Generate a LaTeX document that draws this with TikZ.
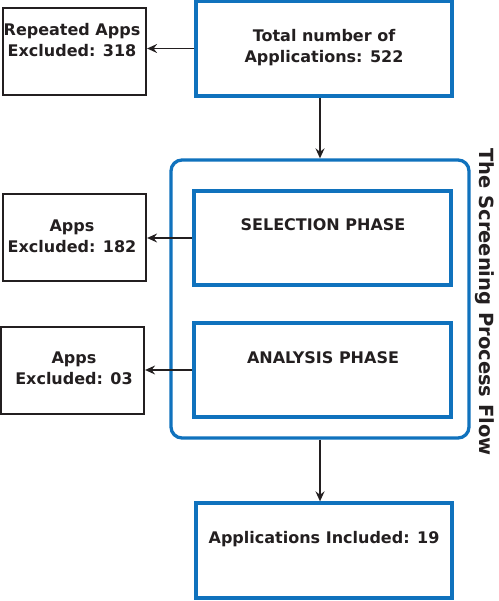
\documentclass[tikz,border=0pt]{standalone}
\usepackage{fontspec}
\setmainfont{DejaVu Sans}
\usetikzlibrary{arrows.meta}
\definecolor{boxblue}{RGB}{16,114,189}
\definecolor{boxblack}{RGB}{35,31,32}
\tikzset{
  bluebox/.style={draw=boxblue,line width=3.3pt,rectangle,inner sep=0pt},
  blackbox/.style={draw=boxblack,line width=2.2pt,rectangle,inner sep=0pt},
  lbl/.style={font=\fontsize{16}{21.5}\selectfont\bfseries,text=boxblack,align=center,inner sep=0pt},
  arr/.style={draw=boxblack,line width=1.9pt,-{Stealth[length=10pt,width=9pt,inset=3.5pt]}}
}
\begin{document}
\begin{tikzpicture}[x=1pt,y=-1pt]
\useasboundingbox (0,0) rectangle (498,601);
\node[blackbox,minimum width=143pt,minimum height=87pt] (rep) at (74.5,51.5) {};
\node[bluebox,minimum width=256pt,minimum height=95pt] (tot) at (324,48.5) {};
\node[bluebox,rounded corners=11pt,minimum width=298pt,minimum height=278pt] (big) at (320,299) {};
\node[bluebox,minimum width=257pt,minimum height=94pt] (sel) at (322.5,238) {};
\node[blackbox,minimum width=143pt,minimum height=87pt] (ex182) at (74.5,237.5) {};
\node[bluebox,minimum width=257pt,minimum height=94pt] (ana) at (322.5,370) {};
\node[blackbox,minimum width=143pt,minimum height=87pt] (ex03) at (72.5,370.5) {};
\node[bluebox,minimum width=256pt,minimum height=95pt] (inc) at (324,550.5) {};

\node[lbl] (reptxt) at (72,40) {Repeated Apps\\Excluded: 318};
\node[lbl] (tottxt) at (324,47.5) {Total number of\\Applications: 522};
\node[lbl] (seltxt) at (323,225) {SELECTION PHASE};
\node[lbl] (ex182txt) at (72,236.5) {Apps\\Excluded: 182};
\node[lbl] (anatxt) at (323,358) {ANALYSIS PHASE};
\node[lbl] (ex03txt) at (74,368.5) {Apps\\Excluded: 03};
\node[lbl] (inctxt) at (324,539) {Applications Included: 19};
\node[lbl,font=\fontsize{19.5}{22}\selectfont\bfseries,rotate=-90] (flow) at (485,302) {The Screening Process Flow};

\draw[arr] (tot.west) -- (tot.west -| rep.east);
\draw[arr] (big.north |- tot.south) -- (big.north);
\draw[arr] (sel.west) -- (sel.west -| ex182.east);
\draw[arr] (ana.west) -- (ana.west -| ex03.east);
\draw[arr] (big.south) -- (big.south |- inc.north);
\end{tikzpicture}
\end{document}
